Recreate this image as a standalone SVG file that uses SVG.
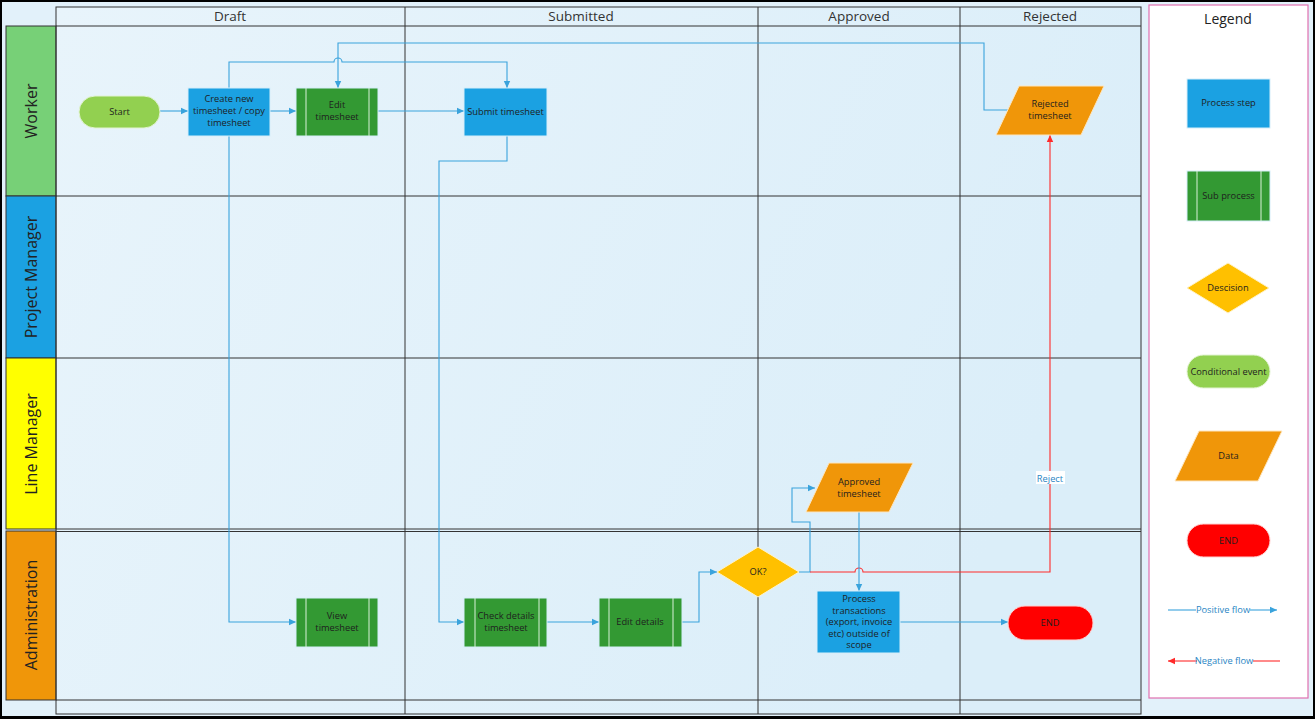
<svg xmlns="http://www.w3.org/2000/svg" width="1315" height="719" viewBox="0 0 1315 719">
<defs>
<linearGradient id="bg" x1="0" y1="0" x2="1" y2="0.3">
<stop offset="0" stop-color="#e8f4fb"/>
<stop offset="1" stop-color="#dbeef9"/>
</linearGradient>
<marker id="ab" markerUnits="userSpaceOnUse" markerWidth="8" markerHeight="8" refX="7" refY="4" orient="auto">
<path d="M0,0.8 L7,4 L0,7.2 z" fill="#3aa3dc"/>
</marker>
<marker id="ar" markerUnits="userSpaceOnUse" markerWidth="8" markerHeight="8" refX="7" refY="4" orient="auto">
<path d="M0,0.8 L7,4 L0,7.2 z" fill="#ff2a2a"/>
</marker>
</defs>
<style>
text{font-family:"Open Sans","Noto Sans","DejaVu Sans",sans-serif;fill:#1e1e1e;}
.t{font-size:9.3px;text-anchor:middle;}
.h{font-size:13.5px;text-anchor:middle;fill:#333;}
.l{font-size:16px;text-anchor:middle;fill:#222;}
.g{fill:none;stroke:#333;stroke-width:1;}
.proc{fill:#1ba1e2;stroke:#d6eefa;stroke-width:1;}
.sub{fill:#339933;stroke:#d6eefa;stroke-width:1;}
.sl{stroke:#d9f0d9;stroke-width:1;}
.dec{fill:#ffc000;stroke:#fff3c8;stroke-width:1;}
.data{fill:#f09609;stroke:#fde6c0;stroke-width:1;}
.ce{fill:#92d050;stroke:#e2f3d2;stroke-width:1;}
.end{fill:#ff0000;stroke:#ffd0d0;stroke-width:1;}
.c{fill:none;stroke:#3aa3dc;stroke-width:1.1;}
.cr{fill:none;stroke:#ff2a2a;stroke-width:1.1;}
.fl{font-size:9.3px;text-anchor:middle;fill:#2a86c4;}
</style>
<rect x="0" y="0" width="1315" height="719" fill="#000"/>
<rect x="2" y="2" width="1311" height="714" fill="#e2f1fa"/>
<g id="grid">
<rect x="56" y="7" width="1085" height="707" fill="url(#bg)" stroke="none"/>
<rect x="6" y="26" width="50" height="170" fill="#77d077" stroke="#333"/>
<rect x="6" y="196" width="50" height="162" fill="#1ba1e2" stroke="#333"/>
<rect x="6" y="358" width="50" height="171" fill="#ffff00" stroke="#333"/>
<rect x="6" y="531" width="50" height="169" fill="#f09609" stroke="#333"/>
<rect x="56" y="7" width="1085" height="707" class="g"/>
<line x1="56" y1="26" x2="1141" y2="26" class="g"/>
<line x1="56" y1="196" x2="1141" y2="196" class="g"/>
<line x1="56" y1="358" x2="1141" y2="358" class="g" stroke-width="1.6"/>
<line x1="56" y1="529" x2="1141" y2="529" class="g"/>
<line x1="56" y1="531.5" x2="1141" y2="531.5" class="g"/>
<line x1="56" y1="700" x2="1141" y2="700" class="g"/>
<line x1="405" y1="7" x2="405" y2="714" class="g"/>
<line x1="758" y1="7" x2="758" y2="714" class="g"/>
<line x1="960" y1="7" x2="960" y2="714" class="g"/>
<text class="h" x="230" y="21">Draft</text>
<text class="h" x="581" y="21">Submitted</text>
<text class="h" x="859" y="21">Approved</text>
<text class="h" x="1050" y="21">Rejected</text>
<text class="l" transform="translate(37,111) rotate(-90)">Worker</text>
<text class="l" transform="translate(37,277) rotate(-90)">Project Manager</text>
<text class="l" transform="translate(37,444) rotate(-90)">Line Manager</text>
<text class="l" transform="translate(37,615) rotate(-90)">Administration</text>
</g>
<g id="connectors">
<line x1="160" y1="111" x2="188" y2="111" class="c" marker-end="url(#ab)"/>
<line x1="270" y1="111" x2="296" y2="111" class="c" marker-end="url(#ab)"/>
<line x1="378" y1="111" x2="464" y2="111" class="c" marker-end="url(#ab)"/>
<path d="M229,88 V62 H334 A4,4 0 0 1 342,62 H507 V88" class="c" marker-end="url(#ab)"/>
<path d="M1008,110 H984 V43 H338 V88" class="c" marker-end="url(#ab)"/>
<path d="M229,136 V622 H296" class="c" marker-end="url(#ab)"/>
<path d="M507,136 V161 H439 V622 H464" class="c" marker-end="url(#ab)"/>
<line x1="547" y1="622" x2="599" y2="622" class="c" marker-end="url(#ab)"/>
<path d="M682,622 H699 V572 H717" class="c" marker-end="url(#ab)"/>
<path d="M799,572 H810 V522 H792 V488 H815" class="c" marker-end="url(#ab)"/>
<path d="M810,572 H855 A4,4 0 0 1 863,572 H1050 V135" class="cr" marker-end="url(#ar)"/>
<rect x="1036" y="471" width="29" height="13" fill="#fff"/>
<text class="fl" x="1050" y="481.5">Reject</text>
<line x1="859" y1="512" x2="859" y2="591" class="c" marker-end="url(#ab)"/>
<line x1="900" y1="622" x2="1008" y2="622" class="c" marker-end="url(#ab)"/>
</g>
<g id="start">
<rect x="79" y="96" width="81" height="32" rx="16" class="ce"/>
<text class="t" x="119.5" y="114.5">Start</text>
</g>
<g id="create">
<rect x="188" y="88" width="82" height="48" class="proc"/>
<text class="t" x="229" y="102">Create new</text>
<text class="t" x="229" y="114">timesheet / copy</text>
<text class="t" x="229" y="126">timesheet</text>
</g>
<g id="edit">
<rect x="296" y="88" width="82" height="48" class="sub"/>
<line x1="306" y1="88" x2="306" y2="136" class="sl"/>
<line x1="369" y1="88" x2="369" y2="136" class="sl"/>
<text class="t" x="337" y="108">Edit</text>
<text class="t" x="337" y="120">timesheet</text>
</g>
<g id="submit">
<rect x="464" y="88" width="83" height="48" class="proc"/>
<text class="t" x="505.5" y="114.5">Submit timesheet</text>
</g>
<g id="rejected">
<polygon points="1019,86 1104,86 1081,135 996,135" class="data"/>
<text class="t" x="1050" y="107">Rejected</text>
<text class="t" x="1050" y="119">timesheet</text>
</g>
<g id="approved">
<polygon points="829,463 913,463 889,512 806,512" class="data"/>
<text class="t" x="859" y="485">Approved</text>
<text class="t" x="859" y="497">timesheet</text>
</g>
<g id="view">
<rect x="296" y="598" width="82" height="49" class="sub"/>
<line x1="306" y1="598" x2="306" y2="647" class="sl"/>
<line x1="369" y1="598" x2="369" y2="647" class="sl"/>
<text class="t" x="337" y="619">View</text>
<text class="t" x="337" y="631">timesheet</text>
</g>
<g id="check">
<rect x="464" y="598" width="83" height="49" class="sub"/>
<line x1="475" y1="598" x2="475" y2="647" class="sl"/>
<line x1="539" y1="598" x2="539" y2="647" class="sl"/>
<text class="t" x="506" y="619">Check details</text>
<text class="t" x="506" y="631">timesheet</text>
</g>
<g id="editdetails">
<rect x="599" y="598" width="83" height="49" class="sub"/>
<line x1="609" y1="598" x2="609" y2="647" class="sl"/>
<line x1="673" y1="598" x2="673" y2="647" class="sl"/>
<text class="t" x="640" y="625">Edit details</text>
</g>
<g id="ok">
<polygon points="758,547 799,572 758,597 717,572" class="dec"/>
<text class="t" x="758" y="575">OK?</text>
</g>
<g id="process">
<rect x="817" y="591" width="83" height="62" class="proc"/>
<text class="t" x="859" y="602">Process</text>
<text class="t" x="859" y="613.5">transactions</text>
<text class="t" x="859" y="625">(export, invoice</text>
<text class="t" x="859" y="636.5">etc) outside of</text>
<text class="t" x="859" y="648">scope</text>
</g>
<g id="end">
<rect x="1008" y="606" width="85" height="34" rx="17" class="end"/>
<text class="t" x="1050" y="625.5">END</text>
</g>
<g id="legend">
<rect x="1149" y="5" width="159" height="693" fill="#fff" stroke="#e070b0" stroke-width="1.2"/>
<text x="1228" y="24" style="font-size:14px;text-anchor:middle;fill:#222">Legend</text>
<rect x="1187" y="79" width="83" height="49" class="proc"/>
<text class="t" x="1228.5" y="106">Process step</text>
<rect x="1187" y="171" width="83" height="50" class="sub"/>
<line x1="1197" y1="171" x2="1197" y2="221" class="sl"/>
<line x1="1261" y1="171" x2="1261" y2="221" class="sl"/>
<text class="t" x="1228.5" y="199">Sub process</text>
<polygon points="1228,263 1269,288 1228,313 1187,288" class="dec"/>
<text class="t" x="1228" y="291">Descision</text>
<rect x="1187" y="355" width="83" height="33" rx="16.5" class="ce"/>
<text class="t" x="1228.5" y="374.5">Conditional event</text>
<polygon points="1199,431 1282,431 1258,481 1175,481" class="data"/>
<text class="t" x="1228.5" y="459">Data</text>
<rect x="1187" y="524" width="83" height="33" rx="16.5" class="end"/>
<text class="t" x="1228.5" y="543.5">END</text>
<line x1="1168" y1="610" x2="1196" y2="610" class="c"/>
<line x1="1250" y1="610" x2="1277" y2="610" class="c" marker-end="url(#ab)"/>
<text class="fl" x="1223" y="613">Positive flow</text>
<line x1="1197" y1="661" x2="1168" y2="661" class="cr" marker-end="url(#ar)"/>
<line x1="1253" y1="661" x2="1280" y2="661" class="cr"/>
<text class="fl" x="1224" y="664">Negative flow</text>
</g>
</svg>
